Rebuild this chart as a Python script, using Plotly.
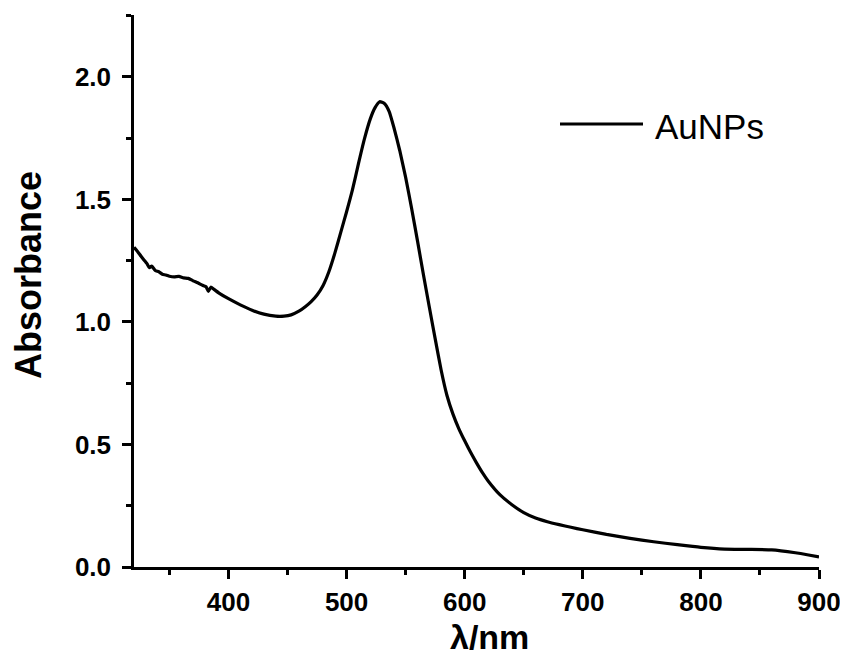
import plotly.graph_objects as go

wavelength = [320, 323, 326, 329, 331, 333, 335, 338, 341, 344, 347, 350, 354, 358, 362, 366,
              370, 374, 378, 381, 383, 385, 388, 392, 400, 410, 420, 430, 440, 447, 453,
              460, 465, 470, 475, 480, 485, 490, 495, 500, 505, 510, 515, 520, 524, 528,
              532, 536, 540, 545, 550, 555, 560, 565, 570, 575, 580, 585, 590, 595, 600,
              605, 610, 615, 620, 630, 640, 650, 660, 670, 680, 690, 700, 720, 740, 760, 780,
              800, 820, 840, 860, 880, 890, 900]
absorbance = [1.305, 1.288, 1.268, 1.250, 1.238, 1.222, 1.228, 1.210, 1.205, 1.195, 1.192, 1.187,
              1.184, 1.186, 1.180, 1.178, 1.168, 1.160, 1.150, 1.144, 1.125, 1.142, 1.132,
              1.118, 1.095, 1.070, 1.048, 1.032, 1.024, 1.024, 1.029, 1.045, 1.062, 1.083,
              1.110, 1.148, 1.205, 1.280, 1.365, 1.450, 1.540, 1.645, 1.745, 1.828, 1.874,
              1.899, 1.892, 1.860, 1.795, 1.700, 1.590, 1.465, 1.332, 1.195, 1.062, 0.932,
              0.805, 0.700, 0.625, 0.565, 0.515, 0.468, 0.425, 0.385, 0.350, 0.294, 0.254,
              0.222, 0.200, 0.185, 0.173, 0.162, 0.152, 0.133, 0.117, 0.103, 0.091, 0.080,
              0.073, 0.072, 0.070, 0.058, 0.050, 0.041]

x_ticks = [400, 500, 600, 700, 800, 900]
y_ticks = [0.0, 0.5, 1.0, 1.5, 2.0]
y_tick_text = ["0.0", "0.5", "1.0", "1.5", "2.0"]
series_name = "AuNPs"

FONT = "Liberation Sans, Arial, sans-serif"

# page has an 8px body margin; figure is sized to fit the 848x659 window
W, H = 840, 651
L, R, T, B = 126, 29, 7, 92
PW, PH = W - L - R, H - T - B


def px(xp):  # page x pixel -> paper coordinate
    return (xp - 8 - L) / PW


def py(yp):  # page y pixel -> paper coordinate
    return (H - B - (yp - 8)) / PH


fig = go.Figure()
fig.add_trace(go.Scatter(x=wavelength, y=absorbance, mode="lines", name=series_name,
                         line=dict(color="black", width=3.2, shape="spline", smoothing=0.5),
                         showlegend=False))

axis_common = dict(showline=True, linecolor="black", linewidth=2.5, ticks="outside",
                   ticklen=9, tickwidth=2.5, tickcolor="black", showgrid=False,
                   zeroline=False, mirror=False,
                   tickfont=dict(family=FONT, size=26, color="black", weight="bold"),
                   minor=dict(ticks="outside", ticklen=5, tickwidth=2.5, tickcolor="black",
                              showgrid=False))

fig.update_xaxes(range=[320, 900], tickvals=x_ticks, ticklabelstandoff=1,
                 minor_dtick=50, minor_tick0=350, **axis_common)
fig.update_yaxes(range=[0, 2.253], tickvals=y_ticks, ticktext=y_tick_text,
                 ticklabelstandoff=6, minor_dtick=0.25, minor_tick0=0.25, **axis_common)

# manual legend
fig.add_shape(type="line", xref="paper", yref="paper",
              x0=px(560), x1=px(643), y0=py(124), y1=py(124),
              line=dict(color="black", width=3))
fig.add_annotation(text=series_name, xref="paper", yref="paper",
                   x=px(653), y=py(126), xanchor="left", yanchor="middle",
                   showarrow=False, font=dict(family=FONT, size=35, color="black"))

# axis titles
fig.add_annotation(text="λ/nm", xref="paper", yref="paper",
                   x=px(489), y=py(637), xanchor="center", yanchor="middle",
                   showarrow=False, font=dict(family=FONT, size=34, color="black", weight="bold"))
fig.add_annotation(text="Absorbance", xref="paper", yref="paper", textangle=-90,
                   x=px(28), y=py(275), xanchor="center", yanchor="middle",
                   showarrow=False, font=dict(family=FONT, size=36, color="black", weight="bold"))

fig.update_layout(width=W, height=H, margin=dict(l=L, r=R, t=T, b=B),
                  plot_bgcolor="white", paper_bgcolor="white")

fig.write_html("out.html")
